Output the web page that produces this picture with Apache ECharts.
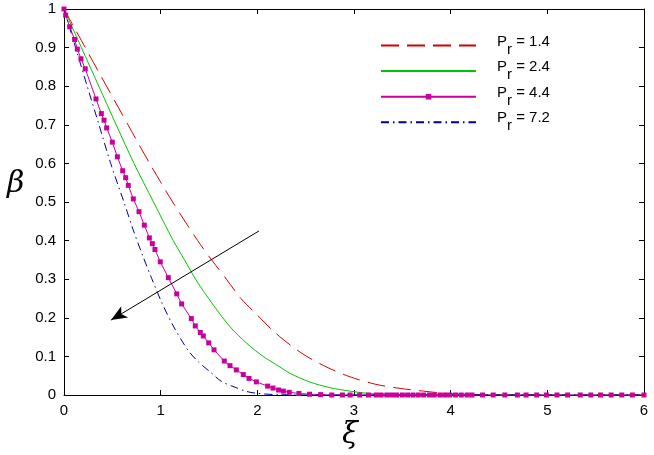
<!DOCTYPE html>
<html>
<head>
<meta charset="utf-8">
<script src="https://cdn.jsdelivr.net/npm/echarts@6/dist/echarts.min.js"></script>
<style>
  html, body { margin: 0; padding: 0; background: #fff; }
  #chart { width: 654px; height: 455px; }
</style>
</head>
<body>
<div id="chart"></div>
<script>
// values, [xi, beta]
const pr14 = [[0, 1], [0.22, 0.9], [0.44, 0.8], [0.662, 0.7], [0.886, 0.6], [1.124, 0.5], [1.383, 0.4],
  [1.527, 0.35], [1.68, 0.3], [1.83, 0.25], [2.0, 0.207], [2.19, 0.16], [2.46, 0.108], [2.72, 0.072],
  [2.96, 0.047], [3.22, 0.028], [3.48, 0.017], [3.72, 0.01], [3.96, 0.004], [4.3, 0.001], [5, 0], [6, 0]];
const pr24 = [[0, 1], [0.18, 0.9], [0.36, 0.8], [0.54, 0.7], [0.724, 0.6], [0.926, 0.5], [1.13, 0.4],
  [1.247, 0.35], [1.366, 0.298], [1.545, 0.233], [1.717, 0.177], [1.89, 0.134], [2.06, 0.1],
  [2.2, 0.078], [2.34, 0.056], [2.54, 0.034], [2.75, 0.019], [2.96, 0.01], [3.2, 0.003], [3.5, 0.001],
  [4, 0], [6, 0]];
const pr44 = [[0, 1], [0.017, 0.984], [0.059, 0.954], [0.11, 0.921], [0.138, 0.896], [0.176, 0.871],
  [0.22, 0.845], [0.331, 0.767], [0.386, 0.729], [0.414, 0.712], [0.441, 0.692], [0.5, 0.655],
  [0.552, 0.617], [0.607, 0.581], [0.638, 0.563], [0.665, 0.543], [0.717, 0.508], [0.776, 0.475],
  [0.831, 0.44], [0.883, 0.407], [0.914, 0.392], [0.941, 0.377], [0.996, 0.345], [1.079, 0.304],
  [1.166, 0.262], [1.217, 0.236], [1.317, 0.198], [1.358, 0.179], [1.41, 0.162], [1.441, 0.153],
  [1.497, 0.135], [1.552, 0.117], [1.658, 0.088], [1.717, 0.076], [1.783, 0.065], [1.855, 0.053],
  [1.914, 0.043], [1.99, 0.034], [2.107, 0.023], [2.162, 0.018], [2.22, 0.013], [2.27, 0.01],
  [2.33, 0.007], [2.43, 0.004], [2.54, 0.002], [2.655, 0.001], [2.77, 0], [2.88, 0], [2.96, 0],
  [3.06, 0], [3.15, 0], [3.23, 0], [3.28, 0], [3.34, 0], [3.39, 0], [3.44, 0], [3.5, 0], [3.555, 0],
  [3.61, 0], [3.665, 0], [3.72, 0], [3.78, 0], [3.83, 0], [3.89, 0], [3.94, 0], [3.99, 0], [4.05, 0],
  [4.11, 0], [4.17, 0], [4.22, 0], [4.33, 0], [4.44, 0], [4.56, 0], [4.69, 0], [4.78, 0], [4.89, 0],
  [4.99, 0], [5.1, 0], [5.21, 0], [5.34, 0], [5.45, 0], [5.55, 0], [5.66, 0], [5.77, 0], [5.88, 0], [6, 0]];
const pr72 = [[0, 1], [0.12, 0.9], [0.24, 0.8], [0.362, 0.7], [0.483, 0.6], [0.62, 0.5], [0.714, 0.429],
  [0.814, 0.361], [0.907, 0.302], [1.014, 0.238], [1.13, 0.179], [1.28, 0.117], [1.39, 0.086],
  [1.52, 0.058], [1.63, 0.035], [1.77, 0.02], [1.89, 0.009], [2.01, 0.004], [2.2, 0.001], [2.5, 0], [6, 0]];

const prValues = ['1.4', '2.4', '4.4', '7.2'];
const xTicks = [0, 1, 2, 3, 4, 5, 6];
// arrow: tail -> head, in data units
const arrowPts = [[2.017, 0.425], [0.486, 0.194]];

const font = 'Liberation Sans, Arial, sans-serif';
const chart = echarts.init(document.getElementById('chart'));

function frameAxis(pos, isX, labels) {
  const ax = {
    type: 'value',
    position: pos,
    min: isX ? xTicks[0] : 0,
    max: isX ? xTicks[xTicks.length - 1] : 1,
    interval: isX ? 1 : 0.1,
    axisLine: { show: true, onZero: false, lineStyle: { color: '#000', width: 1 } },
    axisTick: { show: true, inside: true, length: 5, lineStyle: { color: '#000' } },
    splitLine: { show: false },
    axisLabel: { show: labels, color: '#000', fontFamily: font, fontSize: 15, margin: 8 }
  };
  if (!isX && labels) {
    ax.axisLabel.formatter = v => (v === 0 || v === 1) ? String(v) : v.toFixed(1);
  }
  return ax;
}

const names = prValues.map(v => 'Pr = ' + v);
// only the Pr = 4.4 entry shows its marker
const legendData = names.map((n, i) => i === 2 ? { name: n } : { name: n, itemStyle: { opacity: 0 } });

chart.setOption({
  animation: false,
  backgroundColor: '#fff',
  grid: { left: 64, right: 10, top: 9, bottom: 60 },
  xAxis: [frameAxis('bottom', true, true), frameAxis('top', true, false)],
  yAxis: [frameAxis('left', false, true), frameAxis('right', false, false)],
  legend: {
    orient: 'vertical',
    left: 375,
    top: 29,
    itemWidth: 95,
    itemHeight: 7,
    itemGap: 2.6,
    data: legendData,
    formatter: n => '{p|P}{r|r}{q| = ' + n.slice(5) + '}',
    textStyle: {
      color: '#000',
      fontFamily: font,
      fontSize: 15,
      rich: {
        p: { fontFamily: font, fontSize: 15, lineHeight: 14, padding: [0, 0, 8, 16] },
        r: { fontFamily: font, fontSize: 15, lineHeight: 14, padding: [8, 0, 0, 0] },
        q: { fontFamily: font, fontSize: 15, lineHeight: 14, padding: [0, 0, 8, 0] }
      }
    }
  },
  graphic: [
    { type: 'text', left: 7, top: 169, style: { text: 'β', font: 'italic 30px "DejaVu Serif", serif', fill: '#000' } },
    { type: 'text', left: 342, top: 421, style: { text: 'ξ', font: 'italic 29px "DejaVu Serif", serif', fill: '#000' } }
  ],
  series: [
    {
      name: names[0], type: 'line', data: pr14, symbol: 'none', smooth: 0.3,
      lineStyle: { color: '#d40000', width: 1, type: [18, 8] }, itemStyle: { color: '#d40000' }
    },
    {
      name: names[1], type: 'line', data: pr24, symbol: 'none', smooth: 0.3,
      lineStyle: { color: '#00c400', width: 1 }, itemStyle: { color: '#00c400' }
    },
    {
      name: names[2], type: 'line', data: pr44, symbol: 'rect', symbolSize: 5, showAllSymbol: true,
      lineStyle: { color: '#c8009c', width: 1 }, itemStyle: { color: '#c8009c' },
      markLine: {
        silent: true, symbol: ['none', 'arrow'], symbolSize: [10, 16],
        lineStyle: { color: '#000', width: 1, type: 'solid' },
        label: { show: false },
        data: [[{ coord: arrowPts[0] }, { coord: arrowPts[1] }]]
      }
    },
    {
      name: names[3], type: 'line', data: pr72, symbol: 'none', smooth: 0.3,
      lineStyle: { color: '#000096', width: 1, type: [8, 4, 1.5, 4] }, itemStyle: { color: '#000096' }
    }
  ]
});
</script>
</body>
</html>
